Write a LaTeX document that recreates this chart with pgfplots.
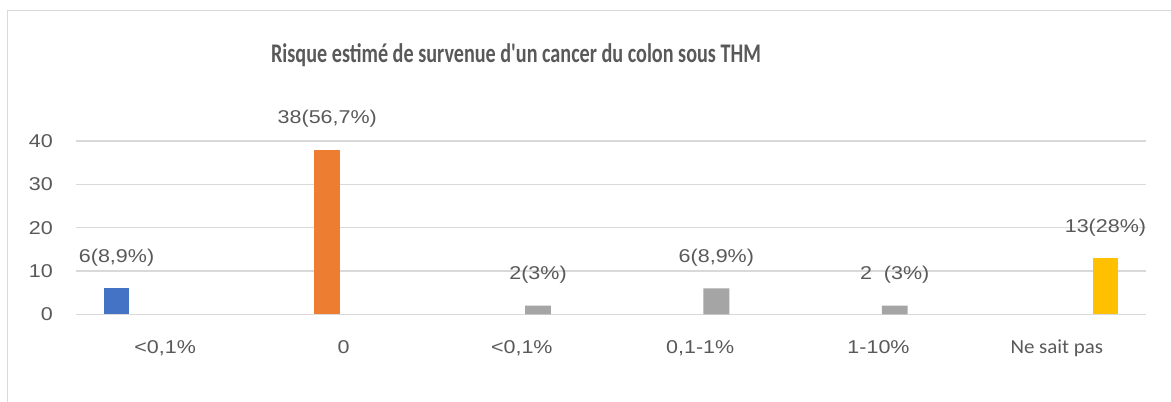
\documentclass[border=0pt]{standalone}
\usepackage{pgfplots}
\pgfplotsset{compat=1.18}
\usepackage{fontspec}
\setmainfont{Liberation Sans}[FakeStretch=1.16]
\newfontfamily\titlefont{Carlito}[FakeStretch=0.75]
\newfontfamily\calfont{Carlito}[FakeStretch=1.05]
\definecolor{cblue}{HTML}{4472C4}
\definecolor{corange}{HTML}{ED7D31}
\definecolor{cgray}{HTML}{A5A5A5}
\definecolor{cyellow}{HTML}{FFC000}
\definecolor{txt}{HTML}{595959}
\definecolor{gridc}{HTML}{D9D9D9}
\begin{document}
\begin{tikzpicture}[x=1bp,y=1bp]
\path[use as bounding box] (0,0) rectangle (1171,401);
\draw[color=gridc, line width=1.2bp] (1200,390.3) -- (7.5,390.3) -- (7.5,-20);
\node[anchor=base, text=txt, inner sep=0pt, font=\titlefont\bfseries\fontsize{27}{30}\selectfont] at (516,339) {Risque estimé de survenue d'un cancer du colon sous THM};
\begin{axis}[
  at={(76bp,86.7bp)}, anchor=south west,
  scale only axis, width=1070bp, height=173.3bp,
  ybar, bar width=25.8bp,
  ymin=0, ymax=40, xmin=-0.5, xmax=5.5,
  ytick={0,10,20,30,40},
  xtick={0,1,2,3,4,5},
  xticklabels={{<0,1\%},0,{<0,1\%},{0,1-1\%},{1-10\%},{\calfont\fontsize{20}{24}\selectfont Ne sait pas}},
  ymajorgrids, grid style={color=gridc, line width=1.3bp},
  axis line style={draw=none},
  major tick length=0pt,
  tick label style={text=txt, font=\fontsize{18.6}{22}\selectfont},
  /pgf/number format/assume math mode=true,
  yticklabel style={anchor=east, inner sep=0pt, xshift=-23bp},
  xticklabel style={anchor=base, inner sep=0pt, yshift=-39bp},
  point meta=explicit symbolic,
  nodes near coords,
  every node near coord/.append style={anchor=base, inner sep=0pt, yshift=25.7bp, text=txt, font=\fontsize{18.6}{22}\selectfont},
  clip=false,
]
\addplot[fill=cblue, draw=none, bar shift=-48.6bp] coordinates {(0,6) [{6(8,9\%)}]};
\addplot[fill=corange, draw=none, bar shift=-16.2bp] coordinates {(1,38) [{38(56,7\%)}]};
\addplot[fill=cgray, draw=none, bar shift=16.2bp] coordinates {(2,2) [{2(3\%)}] (3,6) [{6(8,9\%)}] (4,2) [{2\ \ (3\%)}]};
\addplot[fill=cyellow, draw=none, bar shift=48.6bp] coordinates {(5,13) [{13(28\%)}]};
\end{axis}
\end{tikzpicture}
\end{document}
